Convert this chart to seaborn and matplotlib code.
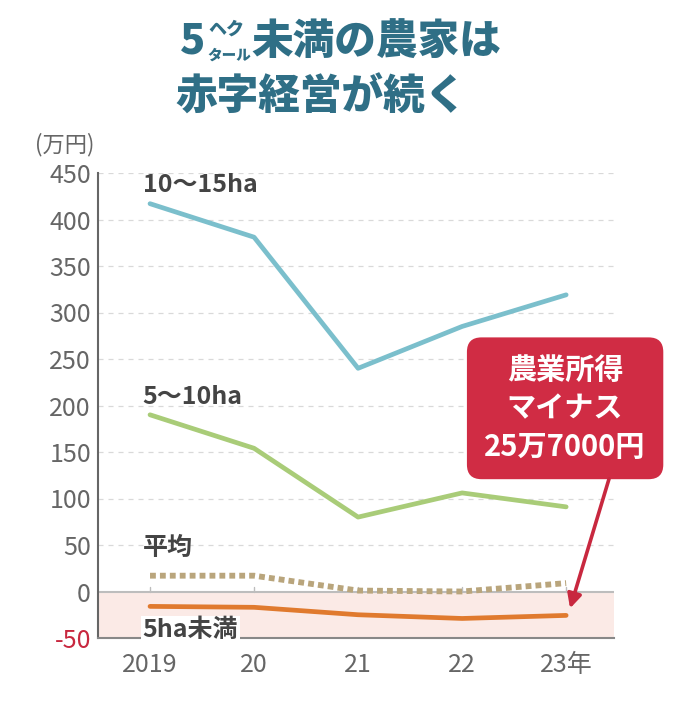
import numpy as np
import pandas as pd
import matplotlib
matplotlib.use("Agg")
import matplotlib.pyplot as plt
import seaborn as sns

# data (万円)
years = ["2019", "20", "21", "22", "23年"]
ha_10_15 = [417, 381, 240, 285, 319]
ha_5_10 = [190, 154, 80, 106, 91]
average = [17, 17, 1, 0, 9]
ha_under5 = [-16, -17, -25, -29, -25.7]
y_ticks = [-50, 0, 50, 100, 150, 200, 250, 300, 350, 400, 450]

sns.set_theme(style="white")
plt.rcParams['font.family'] = ['Noto Sans CJK JP', 'DejaVu Sans']
plt.rcParams['axes.unicode_minus'] = False

W, H = 690, 704
fig = plt.figure(figsize=(W / 100, H / 100), dpi=100)
ax = fig.add_axes([98 / W, 1 - 638 / H, (614 - 98) / W, (638 - 173) / H])

def px(x, y):
    return x / W, 1 - y / H

xs = np.arange(len(years))
df = pd.DataFrame({
    "x": np.tile(xs, 4),
    "value": ha_10_15 + ha_5_10 + average + ha_under5,
    "series": ["10〜15ha"] * 5 + ["5〜10ha"] * 5 + ["平均"] * 5 + ["5ha未満"] * 5,
})

# negative band
ax.axhspan(-50, 0, color="#fbeae6", zorder=0, lw=0)
for t in y_ticks[2:]:
    ax.axhline(t, color="#d9d9d9", lw=0.9, ls=(0, (4, 4)), zorder=1)
ax.axhline(0, color="#bdbdbd", lw=1.5, zorder=1)

colors = {"10〜15ha": "#7bbfcc", "5〜10ha": "#a9cc78", "平均": "#b9a57c", "5ha未満": "#e07a2e"}
for name, sub in df.groupby("series", sort=False):
    if name == "平均":
        sns.lineplot(data=sub, x="x", y="value", ax=ax, color=colors[name], lw=4.2,
                     linestyle=(0, (1.0, 0.7)), legend=False, zorder=3)
    else:
        sns.lineplot(data=sub, x="x", y="value", ax=ax, color=colors[name], lw=3.4,
                     legend=False, zorder=3)

ax.set_xlim(-0.5, 4.46)
ax.set_ylim(-50, 450)
ax.set_xticks(xs)
ax.set_xticklabels(years)
ax.set_yticks(y_ticks)
ax.set_xlabel("")
ax.set_ylabel("")
ax.tick_params(axis="both", labelsize=18, colors="#666666", length=0, pad=5)
ax.tick_params(axis="x", pad=10)
ax.get_yticklabels()[0].set_color("#c8283f")
for sp in ["top", "right"]:
    ax.spines[sp].set_visible(False)
ax.spines["left"].set_color("#666666")
ax.spines["left"].set_linewidth(1.5)
ax.spines["bottom"].set_color("#888888")
ax.spines["bottom"].set_linewidth(1.5)
# small ticks on zero line
for x in xs:
    ax.plot([x, x], [0, 5], color="#bdbdbd", lw=1, zorder=1)

lab = dict(fontsize=18, fontweight="bold", color="#444444", va="center", ha="left")
ax.text(-0.07, 437, "10〜15ha", **lab)
ax.text(-0.07, 209, "5〜10ha", **lab)
ax.text(-0.07, 47, "平均", **lab)
ax.text(-0.07, -41, "5ha未満", bbox=dict(facecolor="white", edgecolor="none", pad=1), zorder=5, **lab)

fig.text(*px(35, 145), "(万円)", fontsize=16, color="#666666", va="center", ha="left")

# callout
ax.text(3.99, 197, "農業所得\nマイナス\n25万7000円", fontsize=21, fontweight="bold",
        color="white", ha="center", va="center", linespacing=1.35, zorder=6, clip_on=False,
        bbox=dict(boxstyle="round,pad=0.6,rounding_size=0.5", facecolor="#d02c44", edgecolor="none"))
ax.annotate("", xy=(4.03, -21), xytext=(4.42, 124), zorder=6, annotation_clip=False,
            arrowprops=dict(arrowstyle="-|>,head_length=0.7,head_width=0.35", color="#c8283f", lw=2.6))

# title
tc = "#2f6f86"
tw = "black"
fig.text(*px(180, 42), "5", fontsize=30, fontweight=tw, color=tc, va="center", ha="left")
fig.text(*px(208, 29), "ヘク", fontsize=13, fontweight=tw, color=tc, va="center", ha="left")
fig.text(*px(207, 55), "タール", fontsize=10.5, fontweight=tw, color=tc, va="center", ha="left")
fig.text(*px(251, 42), "未満の農家は", fontsize=30, fontweight=tw, color=tc, va="center", ha="left")
fig.text(*px(175, 98), "赤字経営が続く", fontsize=30, fontweight=tw, color=tc, va="center", ha="left")

fig.savefig("out.png", dpi=100)
